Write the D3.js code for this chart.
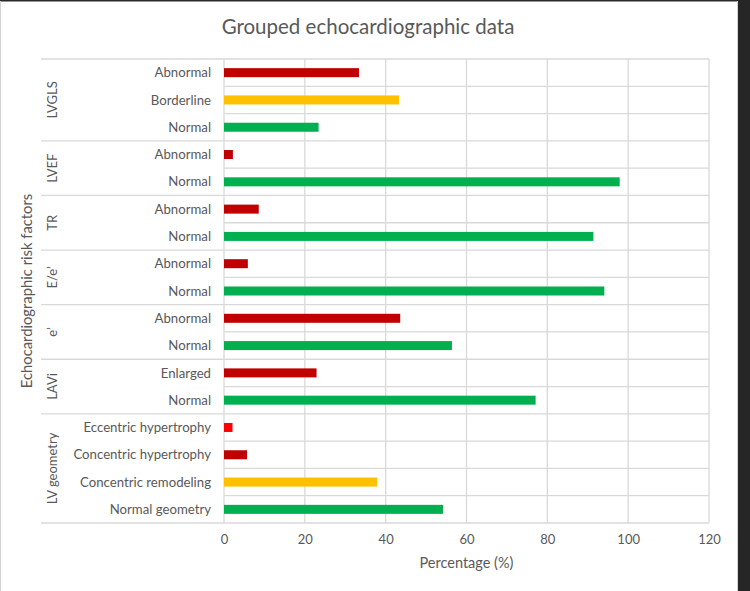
<!DOCTYPE html>
<html>
<head>
<meta charset="utf-8">
<script src="https://cdn.jsdelivr.net/npm/d3@7"></script>
<style>
	body { margin: 0; background: #ffffff; }
	svg { display: block; font-family: Lato, "Open Sans", sans-serif; }
</style>
</head>
<body>
<svg id="chart"></svg>
<script>
// data
const groupNames = ["LVGLS", "LVEF", "TR", "E/e’", "e’", "LAVi", "LV geometry"];
const categoryGroup = [0, 0, 0, 1, 1, 2, 2, 3, 3, 4, 4, 5, 5, 6, 6, 6, 6];
const categoryLabels = ["Abnormal", "Borderline", "Normal", "Abnormal", "Normal", "Abnormal", "Normal",
	"Abnormal", "Normal", "Abnormal", "Normal", "Enlarged", "Normal",
	"Eccentric hypertrophy", "Concentric hypertrophy", "Concentric remodeling", "Normal geometry"];
const percentages = [33.4, 43.3, 23.4, 2.2, 97.9, 8.6, 91.4, 5.9, 94.1, 43.6, 56.4, 22.9, 77.1, 2.1, 5.7, 37.9, 54.2];
const riskLevels = ["abnormal", "borderline", "normal", "abnormal", "normal", "abnormal", "normal",
	"abnormal", "normal", "abnormal", "normal", "abnormal", "normal",
	"eccentric", "abnormal", "borderline", "normal"];
const xTicks = [0, 20, 40, 60, 80, 100, 120];

const width = 750, height = 591;
const margin = { top: 59, right: 41, bottom: 68, left: 224 };

const svg = d3.select("#chart").attr("width", width).attr("height", height);

// frame of the screenshot
svg.append("rect").attr("x", 0).attr("y", 0).attr("width", width).attr("height", 1.5).attr("fill", "#2a2a2a");
svg.append("rect").attr("x", 738).attr("y", 0).attr("width", 12).attr("height", height).attr("fill", "#262626");
svg.append("line").attr("x1", 0.5).attr("x2", 0.5).attr("y1", 1).attr("y2", height).attr("stroke", "#d4d4d4");
svg.append("line").attr("x1", 737.5).attr("x2", 737.5).attr("y1", 1).attr("y2", height).attr("stroke", "#d4d4d4");

const rows = categoryLabels.map(function(d, i) {
	return { key: i, label: d, group: categoryGroup[i], value: percentages[i], level: riskLevels[i] };
});

const xScale = d3.scaleLinear().domain([0, 120]).range([margin.left, width - margin.right]);
const yScale = d3.scaleBand().domain(rows.map(function(d) { return d.key; }))
	.range([margin.top, height - margin.bottom]).paddingInner(0.67).paddingOuter(0.335);
const step = yScale.step();
const colour = d3.scaleOrdinal()
	.domain(["abnormal", "borderline", "normal", "eccentric"])
	.range(["#c00000", "#ffc000", "#00b050", "#ff0000"]);

const grid = svg.append("g").attr("class", "grid");

// vertical gridlines
grid.selectAll(".vgrid").data(xTicks).enter().append("line")
	.attr("x1", function(d) { return xScale(d); })
	.attr("x2", function(d) { return xScale(d); })
	.attr("y1", margin.top)
	.attr("y2", height - margin.bottom)
	.attr("stroke", "#d9d9d9").attr("stroke-width", 1.3);

// horizontal lines at every row edge, group edges go out under the labels
const edges = d3.range(rows.length + 1);
grid.selectAll(".hgrid").data(edges).enter().append("line")
	.attr("x1", function(i) {
		const isGroupEdge = i === 0 || i === rows.length || categoryGroup[i] !== categoryGroup[i - 1];
		return isGroupEdge ? 41 : margin.left;
	})
	.attr("x2", xScale(120))
	.attr("y1", function(i) { return yScale.range()[0] + i * step; })
	.attr("y2", function(i) { return yScale.range()[0] + i * step; })
	.attr("stroke", "#d9d9d9").attr("stroke-width", 1.3);

// bars
svg.append("g").selectAll("rect").data(rows).enter().append("rect")
	.attr("x", xScale(0))
	.attr("y", function(d) { return yScale(d.key); })
	.attr("width", function(d) { return xScale(d.value) - xScale(0); })
	.attr("height", yScale.bandwidth())
	.attr("fill", function(d) { return colour(d.level); });

// category labels
svg.append("g").selectAll("text").data(rows).enter().append("text")
	.attr("x", 211)
	.attr("y", function(d) { return yScale(d.key) + yScale.bandwidth() / 2; })
	.attr("dy", "0.35em")
	.attr("text-anchor", "end")
	.attr("font-size", 13.2)
	.attr("fill", "#595959")
	.text(function(d) { return d.label; });

// group labels, rotated
const groupSpans = groupNames.map(function(name, g) {
	const members = rows.filter(function(d) { return d.group === g; });
	const y0 = yScale(members[0].key) - yScale.step() * yScale.paddingInner() / 2;
	const y1 = y0 + members.length * step;
	return { name: name, mid: (y0 + y1) / 2 };
});
svg.append("g").selectAll("text").data(groupSpans).enter().append("text")
	.attr("transform", function(d) { return "translate(52," + d.mid + ") rotate(-90)"; })
	.attr("dy", "0.35em")
	.attr("text-anchor", "middle")
	.attr("font-size", 13)
	.attr("fill", "#595959")
	.text(function(d) { return d.name; });

// x axis
const xAxis = svg.append("g")
	.attr("transform", "translate(0," + (height - margin.bottom) + ")")
	.call(d3.axisBottom(xScale).tickValues(xTicks).tickSize(0).tickPadding(12));
xAxis.select(".domain").remove();
xAxis.selectAll("text").attr("font-size", 13).attr("fill", "#595959").attr("font-family", "Lato, 'Open Sans', sans-serif");

svg.append("text")
	.attr("x", xScale(60)).attr("y", 568)
	.attr("text-anchor", "middle")
	.attr("font-size", 14.5).attr("fill", "#595959")
	.text("Percentage (%)");

svg.append("text")
	.attr("transform", "translate(27," + ((margin.top + height - margin.bottom) / 2) + ") rotate(-90)")
	.attr("dy", "0.35em")
	.attr("text-anchor", "middle")
	.attr("font-size", 14.8).attr("fill", "#595959")
	.text("Echocardiographic risk factors");

svg.append("text")
	.attr("x", 368).attr("y", 34)
	.attr("text-anchor", "middle")
	.attr("font-size", 20.5).attr("fill", "#595959")
	.text("Grouped echocardiographic data");
</script>
</body>
</html>
